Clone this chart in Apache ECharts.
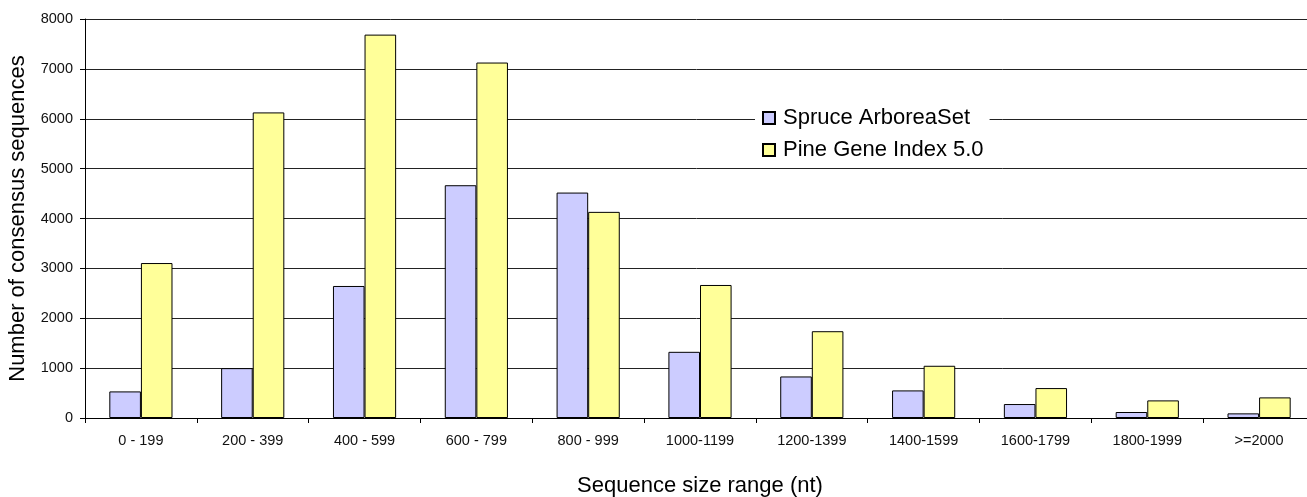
<!DOCTYPE html>
<html>
<head>
<meta charset="utf-8">
<script src="https://cdn.jsdelivr.net/npm/echarts@6/dist/echarts.min.js"></script>
<style>
html,body{margin:0;padding:0;background:#fff;}
#c{width:1307px;height:497px;}
</style>
</head>
<body>
<div id="c"></div>
<script>
var categories = ['0 - 199','200 - 399','400 - 599','600 - 799','800 - 999','1000-1199','1200-1399','1400-1599','1600-1799','1800-1999','>=2000'];
var spruce = [533, 1000, 2647, 4667, 4520, 1327, 833, 553, 280, 120, 93];
var pine = [3107, 6127, 7687, 7127, 4133, 2667, 1740, 1047, 600, 353, 413];
var seriesNames = ['Spruce ArboreaSet', 'Pine Gene Index 5.0'];

var FONT = '"Liberation Sans", Arial, sans-serif';
var chart = echarts.init(document.getElementById('c'));
chart.setOption({
  animation: false,
  backgroundColor: '#fff',
  grid: {left: 85, top: 19, width: 1230, height: 399, containLabel: false, outerBoundsMode: 'none'},
  legend: {
    orient: 'vertical',
    left: 755,
    top: 103,
    backgroundColor: '#fff',
    padding: [4, 6, 4, 7],
    itemWidth: 12,
    itemHeight: 12,
    itemGap: 10,
    icon: 'rect',
    textStyle: {fontFamily: FONT, fontSize: 22, color: '#000', lineHeight: 20, padding: [0,0,0,3]},
    data: seriesNames
  },
  xAxis: {
    type: 'category',
    data: categories,
    boundaryGap: true,
    name: 'Sequence size range (nt)',
    nameLocation: 'middle',
    nameGap: 57,
    nameTextStyle: {fontFamily: FONT, fontSize: 22, color: '#000'},
    axisLine: {lineStyle: {color: '#000', width: 1}},
    axisTick: {show: true, length: 5, interval: 0, lineStyle: {color: '#000'}},
    axisLabel: {interval: 0, margin: 15, fontFamily: FONT, fontSize: 14.5, color: '#111'},
    splitLine: {show: false}
  },
  yAxis: {
    type: 'value',
    min: 0, max: 8000, interval: 1000,
    name: 'Number of consensus sequences',
    nameLocation: 'middle',
    nameGap: 56,
    nameRotate: 90,
    nameTextStyle: {fontFamily: FONT, fontSize: 22, color: '#000'},
    axisLine: {show: true, lineStyle: {color: '#000', width: 1}},
    axisTick: {show: true, length: 5, lineStyle: {color: '#000'}},
    axisLabel: {margin: 12, fontFamily: FONT, fontSize: 14.5, color: '#111',
      formatter: function (v) { return String(v); }},
    splitLine: {show: true, lineStyle: {color: '#222', width: 1}}
  },
  series: [
    {
      name: seriesNames[0], type: 'bar', data: spruce,
      barGap: '0%', barCategoryGap: '43.5%',
      itemStyle: {color: '#CCCCFF', borderColor: '#000', borderWidth: 1}
    },
    {
      name: seriesNames[1], type: 'bar', data: pine,
      barGap: '0%', barCategoryGap: '43.5%',
      itemStyle: {color: '#FFFF99', borderColor: '#000', borderWidth: 1}
    }
  ]
});
</script>
</body>
</html>
